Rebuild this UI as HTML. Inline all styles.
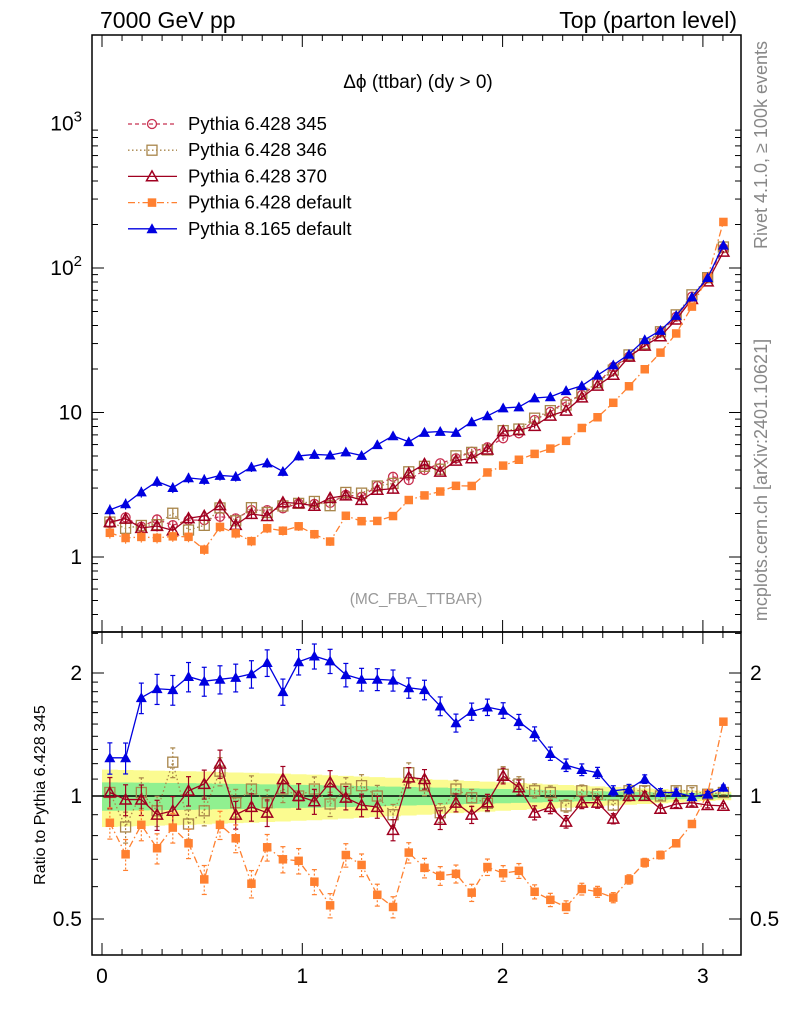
<!DOCTYPE html>
<html><head><meta charset="utf-8"><style>
body{margin:0;background:#fff;}
svg{display:block;font-family:"Liberation Sans",sans-serif;}
</style></head><body>
<svg id="c" width="786" height="1024" viewBox="0 0 786 1024" xmlns="http://www.w3.org/2000/svg">
<rect width="786" height="1024" fill="#fff"/>
<g id="bands"></g>
<g id="plot"></g>
<g id="axes"></g>
<text x="100" y="28" font-size="23">7000 GeV pp</text>
<text x="737" y="28" font-size="23" text-anchor="end">Top (parton level)</text>
<text x="418" y="88" font-size="19" text-anchor="middle">Δϕ (ttbar) (dy &gt; 0)</text>
<text x="416" y="604" font-size="15.5" fill="#999" text-anchor="middle">(MC_FBA_TTBAR)</text>
<text transform="translate(767,145) rotate(-90)" font-size="18" fill="#888" text-anchor="middle">Rivet 4.1.0, ≥ 100k events</text>
<text transform="translate(767,480) rotate(-90)" font-size="18" fill="#888" text-anchor="middle">mcplots.cern.ch [arXiv:2401.10621]</text>
<text transform="translate(45,795) rotate(-90)" font-size="16" text-anchor="middle">Ratio to Pythia 6.428 345</text>
<g id="legend"></g>
</svg>
<script>
const nBins = 40;
const xMax = Math.PI;
const refMain = [1.71,1.88,1.62,1.82,1.66,1.80,1.80,1.90,1.85,2.11,2.11,2.17,2.35,2.33,2.37,2.69,2.61,3.10,3.59,3.41,4.0,4.45,4.82,5.35,5.74,6.63,7.18,8.87,10.1,11.9,13.2,15.9,20.7,24.3,29.0,36.2,46.0,63.3,84.9,137];
const ratio346 = [1.02,0.84,1.02,0.92,1.21,0.854,0.92,1.15,0.963,1.04,0.963,1.04,1.0,1.04,0.956,1.04,1.06,1.0,0.90,1.14,1.06,0.91,1.04,0.99,0.96,1.13,1.07,1.03,1.02,0.946,1.03,1.01,0.95,1.03,1.03,1.0,1.03,1.03,1.01,1.02];
const ratio370 = [1.02,0.98,0.98,0.90,0.92,1.03,1.07,1.20,0.90,0.94,0.91,1.10,1.0,0.97,1.08,0.99,0.95,0.94,0.826,1.11,1.10,0.874,0.963,0.90,0.965,1.12,1.05,0.91,0.94,0.865,0.963,0.963,0.88,1.0,1.0,0.93,0.956,0.963,0.95,0.946];
const ratioP6def = [0.86,0.72,0.85,0.745,0.837,0.766,0.625,0.85,0.788,0.61,0.749,0.70,0.694,0.617,0.54,0.717,0.678,0.573,0.535,0.727,0.667,0.638,0.645,0.58,0.67,0.647,0.656,0.583,0.557,0.535,0.592,0.583,0.564,0.625,0.687,0.717,0.766,0.854,1.015,1.52];
const ratioP8def = [1.24,1.24,1.74,1.83,1.82,1.96,1.91,1.93,1.95,1.99,2.12,1.80,2.13,2.20,2.14,1.98,1.93,1.93,1.92,1.84,1.82,1.66,1.51,1.61,1.65,1.62,1.52,1.42,1.27,1.19,1.16,1.14,1.03,1.04,1.10,1.02,1.02,0.996,1.01,1.05];
const relErr = [0.08,0.079,0.078,0.077,0.076,0.075,0.074,0.072,0.071,0.07,0.068,0.067,0.065,0.064,0.062,0.06,0.058,0.056,0.054,0.052,0.05,0.048,0.046,0.044,0.042,0.04,0.038,0.036,0.034,0.032,0.03,0.028,0.026,0.024,0.022,0.02,0.018,0.016,0.014,0.012];
const xTicks = [0,1,2,3];
const mainTicks = [1,10,100,1000];
const mainTickLabels = ["1","10","10²","10³"];
const ratioTicks = [0.5,1,2];
const ratioTickLabels = ["0.5","1","2"];

const NS="http://www.w3.org/2000/svg";
const L=92,R=741,T=35,M=632,B=955;
const X = x => 102 + x*200.3;
const YM = v => 557 - Math.log10(v)*144.5;
const YR = r => 796 - Math.log10(r)*408.6;
function mk(tag, attrs, parent){const e=document.createElementNS(NS,tag);for(const k in attrs)e.setAttribute(k,attrs[k]);parent.appendChild(e);return e;}
const plot=document.getElementById('plot'), axes=document.getElementById('axes'), bands=document.getElementById('bands'), legend=document.getElementById('legend');
const centers=[];for(let i=0;i<nBins;i++)centers.push((i+0.5)*xMax/nBins);
const w=xMax/nBins;

let yTop=[],yBot=[],gTop=[],gBot=[];
for(let i=0;i<nBins;i++){
  const x0=X(i*w),x1=X((i+1)*w);
  yTop.push(x0+','+YR(1+2*relErr[i]),x1+','+YR(1+2*relErr[i]));
  yBot.push(x0+','+YR(1-2*relErr[i]),x1+','+YR(1-2*relErr[i]));
  gTop.push(x0+','+YR(1+relErr[i]),x1+','+YR(1+relErr[i]));
  gBot.push(x0+','+YR(1-relErr[i]),x1+','+YR(1-relErr[i]));
}
const yb=mk('polygon',{points:yTop.concat(yBot.reverse()).join(' '),fill:'#fbfb90'},bands);


const gb=mk('polygon',{points:gTop.concat(gBot.reverse()).join(' '),fill:'#90f090'},bands);


const rl=mk('line',{x1:L,x2:R,y1:YR(1),y2:YR(1),stroke:'#000','stroke-width':1.5},bands);



function marker(g,type,cx,cy,col,s){
  if(type==='circle')return mk('circle',{cx,cy,r:s*0.9,fill:'none',stroke:col,'stroke-width':1.3},g);
  if(type==='osquare')return mk('rect',{x:cx-s,y:cy-s,width:2*s,height:2*s,fill:'none',stroke:col,'stroke-width':1.3},g);
  if(type==='fsquare')return mk('rect',{x:cx-s*0.85,y:cy-s*0.85,width:1.7*s,height:1.7*s,fill:col},g);
  const h=s*1.1;const pts=`${cx},${cy-h} ${cx-h},${cy+h*0.8} ${cx+h},${cy+h*0.8}`;
  if(type==='otri')return mk('polygon',{points:pts,fill:'none',stroke:col,'stroke-width':1.5},g);
  return mk('polygon',{points:pts,fill:col},g);
}
const series=[
 {name:'Pythia 6.428 345',key:'p345',ratio:null,col:'#c83050',type:'circle',dash:'4,3'},
 {name:'Pythia 6.428 346',key:'p346',ratio:ratio346,col:'#a8854a',type:'osquare',dash:'1.5,2.5'},
 {name:'Pythia 6.428 370',key:'p370',ratio:ratio370,col:'#a00020',type:'otri',dash:''},
 {name:'Pythia 6.428 default',key:'p6def',ratio:ratioP6def,col:'#ff8030',type:'fsquare',dash:'7,3,1.5,3'},
 {name:'Pythia 8.165 default',key:'p8def',ratio:ratioP8def,col:'#0000e0',type:'ftri',dash:''}
];
series.forEach(s=>{
  const g=mk('g',{},plot);
  
  
  const vals=[],rats=[];
  for(let i=0;i<nBins;i++){const r=s.ratio?s.ratio[i]:1;rats.push(r);vals.push(refMain[i]*r);}
  const pm=centers.map((c,i)=>X(c)+','+YM(vals[i])).join(' ');
  const pr=centers.map((c,i)=>X(c)+','+YR(rats[i])).join(' ');
  const l1=mk('polyline',{points:pm,fill:'none',stroke:s.col,'stroke-width':1.3,'stroke-dasharray':s.dash},g);
  
  
  if(s.ratio){
    const l2=mk('polyline',{points:pr,fill:'none',stroke:s.col,'stroke-width':1.3,'stroke-dasharray':s.dash},g);
    
    
  }
  centers.forEach((c,i)=>{
    const cx=X(c);
    const e=relErr[i]*1.1;
    if(s.ratio){
      const y1=YR(rats[i]*(1+e)),y2=YR(rats[i]*(1-e));
      mk('line',{x1:cx,x2:cx,y1,y2,stroke:s.col,'stroke-width':1.2,'stroke-dasharray':s.dash?'2,2':''},g);
      mk('line',{x1:cx-2.5,x2:cx+2.5,y1,y2:y1,stroke:s.col,'stroke-width':1.2},g);
      mk('line',{x1:cx-2.5,x2:cx+2.5,y1:y2,y2:y2,stroke:s.col,'stroke-width':1.2},g);
      const m=marker(g,s.type,cx,YR(rats[i]),s.col,5);
      
      
    }
    const my1=YM(vals[i]*(1+e)),my2=YM(vals[i]*(1-e));
    mk('line',{x1:cx,x2:cx,y1:my1,y2:my2,stroke:s.col,'stroke-width':1.2},g);
    const m2=marker(g,s.type,cx,YM(vals[i]),s.col,5);
    
    
  });
  const li=series.indexOf(s);const ly=124+li*26.2;
  const lg=mk('g',{},legend);
  
  
  mk('line',{x1:128,x2:177,y1:ly,y2:ly,stroke:s.col,'stroke-width':1.3,'stroke-dasharray':s.dash},lg);
  marker(lg,s.type,152,ly,s.col,5);
  const t=mk('text',{x:188,y:ly+6,'font-size':18.5},lg);t.textContent=s.name;
});

const f1=mk('rect',{x:L,y:T,width:R-L,height:M-T,fill:'none',stroke:'#000','stroke-width':1.5},axes);


const f2=mk('rect',{x:L,y:M,width:R-L,height:B-M,fill:'none',stroke:'#000','stroke-width':1.5},axes);


for(let k=0;k<=31;k++){const x=X(k/10);if(x>R)break;const maj=k%10===0;const len=maj?12:6;
  [[T,1],[M,-1],[M,1],[B,-1]].forEach(([y,d])=>mk('line',{x1:x,x2:x,y1:y,y2:y+d*len,stroke:'#000','stroke-width':1},axes));}
xTicks.forEach(v=>{const t=mk('text',{x:X(v),y:983,'font-size':21,'text-anchor':'middle'},axes);t.textContent=v;
  
  });
for(let d=0;d<4;d++)for(let m=1;m<=9;m++){const v=m*Math.pow(10,d-1);const y=YM(v);if(y<T||y>M)continue;const len=m===1?12:6;
  mk('line',{x1:L,x2:L+len,y1:y,y2:y,stroke:'#000'},axes);mk('line',{x1:R,x2:R-len,y1:y,y2:y,stroke:'#000'},axes);}
mainTicks.forEach((v,i)=>{const t=mk('text',{x:82,y:YM(v)+7,'font-size':21,'text-anchor':'end'},axes);
  const lab=mainTickLabels[i];
  if(lab.length>2&&lab.startsWith('10')){t.textContent='10';const s=mk('tspan',{dy:-9,'font-size':15},t);s.textContent=lab==='10³'?'3':'2';}
  else t.textContent=lab;
  
  });
[0.5,0.6,0.7,0.8,0.9,1,1.1,1.2,1.3,1.4,1.5,1.6,1.7,1.8,1.9,2,2.5].forEach(v=>{const y=YR(v);const maj=ratioTicks.includes(v);const len=maj?12:6;
  mk('line',{x1:L,x2:L+len,y1:y,y2:y,stroke:'#000'},axes);mk('line',{x1:R,x2:R-len,y1:y,y2:y,stroke:'#000'},axes);});
ratioTicks.forEach((v,i)=>{
  const t=mk('text',{x:82,y:YR(v)+7,'font-size':21,'text-anchor':'end'},axes);t.textContent=ratioTickLabels[i];
  
  
  const t2=mk('text',{x:750,y:YR(v)+7,'font-size':21},axes);t2.textContent=ratioTickLabels[i];
  
  });
</script>
</body></html>
